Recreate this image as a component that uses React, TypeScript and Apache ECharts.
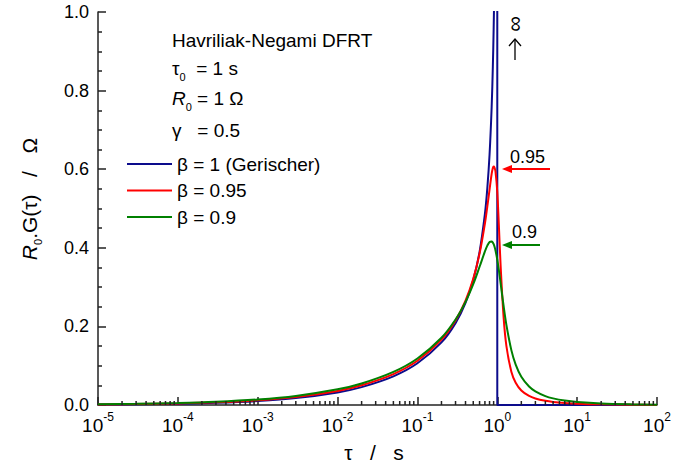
import React, { useEffect, useRef } from 'react';
import * as echarts from 'echarts';

// Gerischer (beta = 1) distribution
const tauGerischer = [1e-5, 3e-5, 1e-4, 3e-4, 1e-3, 3e-3, 1e-2, 0.02, 0.05, 0.1, 0.2, 0.3, 0.4, 0.5, 0.6, 0.7, 0.75, 0.8, 0.85, 0.88, 0.9, 0.92, 0.95, 0.99, 0.999];
const gGerischer = [0.0010, 0.0017, 0.0032, 0.0055, 0.0101, 0.0175, 0.0320, 0.0455, 0.0730, 0.1061, 0.1592, 0.2083, 0.2599, 0.3183, 0.3898, 0.4862, 0.5513, 0.6366, 0.7577, 0.8620, 0.9549, 1.0795, 1.3875, 3.167, 10.06];
// vertical drop at tau = tau0 and zero beyond
const tauGerischerTail = [0.999, 1, 100];
const gGerischerTail = [10.06, 0, 0];

// Havriliak-Negami curves (gamma = 0.5)
const tauHN = [1e-5, 3e-5, 1e-4, 3e-4, 1e-3, 3e-3, 1e-2, 0.02, 0.05, 0.1, 0.2, 0.3, 0.4, 0.5, 0.6, 0.7, 0.75, 0.8, 0.85, 0.88, 0.9, 0.92, 0.95, 1.0, 1.05, 1.1, 1.2, 1.3, 1.5, 1.7, 2, 2.5, 3, 4, 5, 7, 10, 20, 50, 100];
const gBeta095 = [0.0013, 0.0023, 0.0040, 0.0067, 0.0119, 0.0201, 0.0358, 0.0501, 0.0787, 0.1126, 0.1663, 0.2153, 0.2658, 0.3212, 0.3853, 0.4619, 0.5050, 0.5480, 0.5880, 0.6030, 0.6070, 0.6050, 0.5940, 0.5420, 0.4500, 0.3560, 0.2228, 0.1505, 0.0847, 0.0568, 0.0371, 0.0230, 0.0166, 0.0106, 0.0077, 0.0051, 0.0033, 0.0016, 0.0006, 0.0003];
const gBeta09 = [0.0018, 0.0029, 0.0050, 0.0082, 0.0141, 0.0231, 0.0399, 0.0548, 0.0843, 0.1184, 0.1711, 0.2175, 0.2624, 0.3075, 0.3518, 0.3907, 0.4055, 0.4147, 0.4163, 0.4132, 0.4092, 0.4038, 0.3932, 0.3696, 0.3411, 0.3104, 0.2519, 0.2038, 0.1396, 0.1026, 0.0717, 0.0469, 0.0346, 0.0226, 0.0168, 0.0112, 0.0075, 0.0037, 0.0015, 0.0008];

const seriesNames = ['β = 1 (Gerischer)', 'β = 0.95', 'β = 0.9'];
const seriesColors = ['#0c0c8c', '#ff0000', '#008000'];
const xDecades = [-5, -4, -3, -2, -1, 0, 1, 2];
const yRange = [0, 1];
const yStep = 0.2;

const FONT = "'Liberation Sans', Arial, Helvetica, sans-serif";
const AX = '#222';

export default function App() {
  const ref = useRef<HTMLDivElement>(null);
  useEffect(() => {
    const chart = echarts.init(ref.current!, null, { renderer: 'svg' });
    const zip = (xs: number[], ys: number[]) => xs.map((x, i) => [x, ys[i]]);
    const minor: number[][] = [];
    for (let n = xDecades[0]; n < xDecades[xDecades.length - 1]; n++) {
      for (let k = 2; k <= 9; k++) minor.push([k * Math.pow(10, n), 0]);
    }
    const txt = (x: number, y: number, text: string, fontSize: number, extra: any = {}) => ({
      type: 'text', x, y, silent: true,
      style: {
        text, fontSize, fontFamily: FONT, fill: '#000',
        align: 'left', verticalAlign: 'middle', textAlign: 'left', textVerticalAlign: 'middle',
        ...extra,
      },
    });
    const subRich = (fs: number) => ({
      n: { fontSize: fs, fontFamily: FONT, lineHeight: 28, fill: '#000' },
      i: { fontSize: fs, fontFamily: FONT, fontStyle: 'italic', lineHeight: 28, fill: '#000' },
      s: { fontSize: 11, fontFamily: FONT, lineHeight: 11, verticalAlign: 'bottom', fill: '#000' },
    });
    const lineSeries = (idx: number, data: number[][], z: number, smooth: number | boolean) => ({
      name: seriesNames[idx], type: 'line', data, symbol: 'none', showSymbol: false,
      smooth,
      lineStyle: { color: seriesColors[idx], width: 2 }, itemStyle: { color: seriesColors[idx] },
      z, clip: true,
    });
    chart.setOption({
      animation: false,
      grid: { left: 98, right: 29, top: 12, bottom: 61, containLabel: false },
      legend: {
        data: seriesNames.map((name) => ({ name, icon: 'rect' })),
        orient: 'vertical', left: 122, top: 149.5,
        itemWidth: 45, itemHeight: 2, itemGap: 7.5, itemTextGap: 4,
        textStyle: { fontSize: 19, fontFamily: FONT, color: '#000' },
        selectedMode: false,
      },
      xAxis: {
        type: 'log', logBase: 10, min: Math.pow(10, xDecades[0]), max: Math.pow(10, xDecades[xDecades.length - 1]),
        splitNumber: xDecades.length - 1,
        axisLine: { show: true, onZero: false, lineStyle: { color: AX, width: 1.5 } },
        axisTick: { show: true, inside: true, length: 8, lineStyle: { color: AX, width: 1.5 } },
        splitLine: { show: false },
        axisLabel: {
          margin: 6,
          formatter: (v: number) => `{b|10}{s|${Math.round(Math.log10(v))}}`,
          rich: {
            b: { fontSize: 19, fontFamily: FONT, color: '#000', lineHeight: 28 },
            s: { fontSize: 12, fontFamily: FONT, color: '#000', lineHeight: 12, verticalAlign: 'top' },
          },
        },
      },
      yAxis: {
        type: 'value', min: yRange[0], max: yRange[1], interval: yStep,
        axisLine: { show: true, onZero: false, lineStyle: { color: AX, width: 1.5 } },
        axisTick: { show: true, inside: true, length: 8, lineStyle: { color: AX, width: 1.5 } },
        minorTick: { show: true, splitNumber: 4, length: 4, lineStyle: { color: AX, width: 1.5 } },
        splitLine: { show: false },
        axisLabel: { margin: 9, fontSize: 18, fontFamily: FONT, color: '#000', formatter: (v: number) => v.toFixed(1) },
      },
      series: [
        lineSeries(0, zip(tauGerischer, gGerischer), 2, 0.35),
        lineSeries(0, zip(tauGerischerTail, gGerischerTail), 2, false),
        lineSeries(1, zip(tauHN, gBeta095), 3, 0.35),
        lineSeries(2, zip(tauHN, gBeta09), 4, 0.35),
        {
          type: 'custom', data: minor, silent: true, clip: false, z: 5,
          encode: { x: 0, y: 1 },
          renderItem: (params: any, api: any) => {
            const p = api.coord([api.value(0), api.value(1)]);
            return {
              type: 'line',
              shape: { x1: p[0], y1: p[1], x2: p[0], y2: p[1] - 4 },
              style: { stroke: AX, lineWidth: 1.5 },
            };
          },
        },
      ],
      graphic: [
        txt(172, 40, 'Havriliak-Negami DFRT', 19),
        txt(172, 68, '{n|τ}{s|0}{n|  = 1 s}', 19, { rich: subRich(19) }),
        txt(172, 98, '{i|R}{s|0}{n| = 1 Ω}', 19, { rich: subRich(19) }),
        txt(172, 130, 'γ   = 0.5', 19),
        // y axis title
        {
          type: 'text', x: 29, y: 199, rotation: Math.PI / 2, silent: true,
          style: {
            text: '{i|R}{s|0}{n|.G(τ)   /   Ω}', rich: subRich(21),
            align: 'center', verticalAlign: 'middle', textAlign: 'center', textVerticalAlign: 'middle',
          },
        },
        // x axis title
        {
          type: 'text', x: 374, y: 452, silent: true,
          style: {
            text: 'τ   /   s', fontSize: 21, fontFamily: FONT, fill: '#000',
            align: 'center', verticalAlign: 'middle', textAlign: 'center', textVerticalAlign: 'middle',
          },
        },
        // infinity marker
        {
          type: 'text', x: 514, y: 24, rotation: Math.PI / 2, silent: true,
          style: {
            text: '∞', fontSize: 22, fontFamily: FONT, fill: '#000',
            align: 'center', verticalAlign: 'middle', textAlign: 'center', textVerticalAlign: 'middle',
          },
        },
        { type: 'line', silent: true, shape: { x1: 515, y1: 60, x2: 515, y2: 39 }, style: { stroke: '#000', lineWidth: 1.3 } },
        { type: 'polyline', silent: true, shape: { points: [[509, 46], [515, 39], [521, 46]] }, style: { stroke: '#000', lineWidth: 1.3, fill: null } },
        // 0.95 annotation
        txt(510, 157, '0.95', 18),
        { type: 'line', silent: true, shape: { x1: 550, y1: 169, x2: 508, y2: 169 }, style: { stroke: seriesColors[1], lineWidth: 2 } },
        { type: 'polygon', silent: true, shape: { points: [[502, 169], [512, 165], [512, 173]] }, style: { fill: seriesColors[1] } },
        // 0.9 annotation
        txt(512, 232, '0.9', 18),
        { type: 'line', silent: true, shape: { x1: 540, y1: 245, x2: 508, y2: 245 }, style: { stroke: seriesColors[2], lineWidth: 2 } },
        { type: 'polygon', silent: true, shape: { points: [[502, 245], [512, 241], [512, 249]] }, style: { fill: seriesColors[2] } },
      ],
    });
    return () => chart.dispose();
  }, []);
  return <div ref={ref} style={{ position: 'absolute', left: 0, top: 0, width: 686, height: 466 }} />;
}
